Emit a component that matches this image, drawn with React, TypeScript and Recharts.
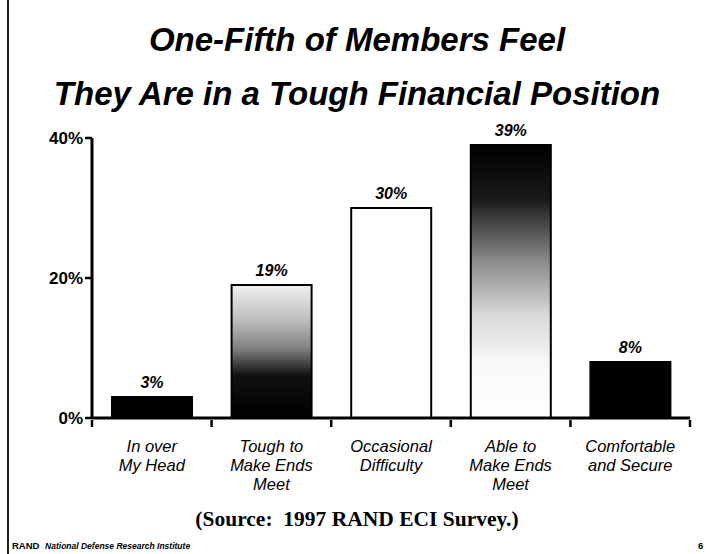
import { BarChart, Bar, XAxis, YAxis, Cell, LabelList } from 'recharts';

const categories = ['In over\nMy Head', 'Tough to\nMake Ends\nMeet', 'Occasional\nDifficulty', 'Able to\nMake Ends\nMeet', 'Comfortable\nand Secure'];
const shares = [3, 19, 30, 39, 8];
const yTicks = [0, 20, 40];
const fills = ['#000', 'url(#toughGrad)', '#fff', 'url(#ableGrad)', '#000'];

const data = categories.map((name, i) => ({ name, value: shares[i] }));

const sans = '"Liberation Sans", Arial, sans-serif';

const CategoryTick = (props: any) => {
  const { x, y, payload, index } = props;
  const lines = String(payload.value).split('\n');
  const half = payload.offset || 60;
  return (
    <g>
      <line x1={x - half} x2={x - half} y1={y - 6} y2={y + 1} stroke="#000" strokeWidth={2.5} />
      {index === categories.length - 1 && (
        <line x1={x + half} x2={x + half} y1={y - 6} y2={y + 1} stroke="#000" strokeWidth={2.5} />
      )}
      <text x={x} y={y + 26} textAnchor="middle" fontFamily={sans} fontStyle="italic" fontSize={16.5} fill="#000">
        {lines.map((l, i) => (
          <tspan key={i} x={x} dy={i === 0 ? 0 : 19}>{l}</tspan>
        ))}
      </text>
    </g>
  );
};

const App = () => {
  return (
    <div style={{ position: 'absolute', left: 0, top: 0, width: 714, height: 554, background: '#fff', overflow: 'hidden' }}>
      <div style={{ position: 'absolute', left: 7, top: 0, width: 2, height: 554, background: '#222' }} />
      <div style={{ position: 'absolute', left: 0, top: 13, width: 714, textAlign: 'center', fontFamily: sans, fontWeight: 'bold', fontStyle: 'italic', fontSize: 33, lineHeight: '54px', color: '#000' }}>
        One-Fifth of Members Feel<br />They Are in a Tough Financial Position
      </div>
      <div style={{ position: 'absolute', left: 0, top: 0 }}>
        <BarChart width={714} height={554} data={data} margin={{ top: 138, right: 24, left: 0, bottom: 0 }} barCategoryGap={20}>
          <defs>
            <linearGradient id="toughGrad" x1="0" y1="0" x2="0" y2="1">
              <stop offset="0%" stopColor="#f0f0f0" />
              <stop offset="25%" stopColor="#c0c0c0" />
              <stop offset="48%" stopColor="#808080" />
              <stop offset="68%" stopColor="#111" />
              <stop offset="100%" stopColor="#000" />
            </linearGradient>
            <linearGradient id="ableGrad" x1="0" y1="0" x2="0" y2="1">
              <stop offset="0%" stopColor="#000" />
              <stop offset="20%" stopColor="#1a1a1a" />
              <stop offset="42%" stopColor="#888" />
              <stop offset="62%" stopColor="#d8d8d8" />
              <stop offset="80%" stopColor="#f8f8f8" />
              <stop offset="100%" stopColor="#fff" />
            </linearGradient>
          </defs>
          <XAxis
            dataKey="name"
            height={136}
            axisLine={{ stroke: '#000', strokeWidth: 3 }}
            tickLine={false}
            tick={<CategoryTick />}
            interval={0}
          />
          <YAxis
            width={92}
            domain={[0, 40]}
            ticks={yTicks}
            tickFormatter={(v: number) => `${v}%`}
            axisLine={{ stroke: '#000', strokeWidth: 3 }}
            tickLine={{ stroke: '#000', strokeWidth: 2.5 }}
            tickSize={7}
            tick={{ fill: '#000', fontFamily: sans, fontWeight: 'bold', fontSize: 17 }}
          />
          <Bar dataKey="value" isAnimationActive={false} stroke="#000" strokeWidth={2}>
            {data.map((_, i) => (
              <Cell key={`cell-${i}`} fill={fills[i]} />
            ))}
            <LabelList
              dataKey="value"
              position="top"
              offset={9}
              formatter={(v: any) => `${v}%`}
              style={{ fill: '#000', fontFamily: sans, fontWeight: 'bold', fontStyle: 'italic', fontSize: 16 }}
            />
          </Bar>
        </BarChart>
      </div>
      <div style={{ position: 'absolute', left: 0, top: 507, width: 714, textAlign: 'center', fontFamily: '"Liberation Serif", "Times New Roman", serif', fontWeight: 'bold', fontSize: 21.5, color: '#000' }}>
        (Source:&nbsp; 1997 RAND ECI Survey.)
      </div>
      <div style={{ position: 'absolute', left: 12, top: 540, fontFamily: sans, fontWeight: 'bold', fontSize: 9.5, color: '#000', whiteSpace: 'nowrap' }}>
        RAND <span style={{ fontStyle: 'italic', fontSize: 8.5, marginLeft: 3 }}>National Defense Research Institute</span>
      </div>
      <div style={{ position: 'absolute', left: 698, top: 540, fontFamily: sans, fontWeight: 'bold', fontSize: 9.5, color: '#000' }}>6</div>
    </div>
  );
};

export default App;
